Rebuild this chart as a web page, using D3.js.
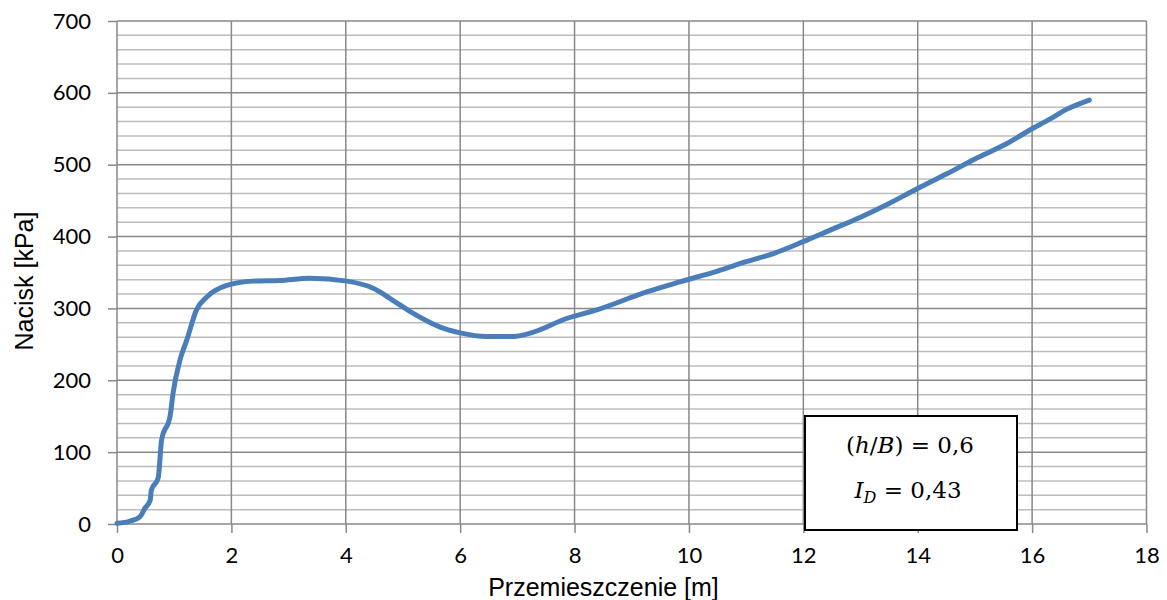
<!DOCTYPE html>
<html><head><meta charset="utf-8">
<script src="https://cdn.jsdelivr.net/npm/d3@7"></script>
<style>body{margin:0;background:#fff}svg{display:block}</style>
</head><body>
<svg id="c" width="1167" height="600"></svg>
<script>
const xValues = [0, 0.23, 0.40, 0.49, 0.58, 0.60, 0.72, 0.78, 0.93, 0.98, 1.10, 1.22, 1.39, 1.57, 1.92, 2.38, 2.85, 3.37, 4.02, 4.48, 4.83, 5.18, 5.65, 6.0, 6.46, 6.93, 7.28, 7.86, 8.39, 9.26, 9.84, 10.5, 11, 11.5, 12, 12.5, 13, 13.5, 14, 14.5, 15, 15.5, 16, 16.3, 16.6, 17.0];
const yValues = [1, 4, 10, 22, 33, 47, 64, 117, 151, 182, 228, 256, 298, 316, 332, 338, 339, 342, 338, 328, 311, 293, 274, 266, 261, 261, 267, 286, 298, 323, 337, 352, 365, 377, 393, 410, 427, 446, 467, 487, 508, 527, 550, 563, 577, 590];
const xTicks = [0, 2, 4, 6, 8, 10, 12, 14, 16, 18];
const yTicks = [0, 100, 200, 300, 400, 500, 600, 700];
const yMinorTicks = d3.range(0, 701, 20);
const xTitle = "Przemieszczenie [m]";
const yTitle = "Nacisk [kPa]";

const svg = d3.select("#c");
const L = 117, R = 1146.5, T = 21, B = 524;
const x = d3.scaleLinear().domain([0, 18]).range([L, R]);
const y = d3.scaleLinear().domain([0, 700]).range([B, T]);

svg.append("g").selectAll("line").data(yMinorTicks.filter(v => v % 100 !== 0)).join("line")
  .attr("x1", L).attr("x2", R).attr("y1", d => y(d)).attr("y2", d => y(d))
  .attr("stroke", "#bcbcbc").attr("stroke-width", 1.5);
svg.append("g").selectAll("line").data(yTicks.filter(v => v > 0)).join("line")
  .attr("x1", L).attr("x2", R).attr("y1", d => y(d)).attr("y2", d => y(d))
  .attr("stroke", "#888").attr("stroke-width", 1.5);
svg.append("g").selectAll("line").data(xTicks.filter(v => v > 0)).join("line")
  .attr("x1", d => x(d)).attr("x2", d => x(d)).attr("y1", T).attr("y2", B)
  .attr("stroke", "#888").attr("stroke-width", 1.5);

const xAxis = d3.axisBottom(x).tickValues(xTicks).tickSize(9).tickPadding(14).tickFormat(d3.format("d"));
const yAxis = d3.axisLeft(y).tickValues(yTicks).tickSize(9).tickPadding(17).tickFormat(d3.format("d"));
const gx = svg.append("g").attr("transform", `translate(0,${B})`).call(xAxis);
const gy = svg.append("g").attr("transform", `translate(${L},0)`).call(yAxis);
[gx, gy].forEach(g => {
  g.select(".domain").attr("stroke", "#888").attr("stroke-width", 1.5);
  g.selectAll(".tick line").attr("stroke", "#888").attr("stroke-width", 1.5);
  g.selectAll(".tick text").attr("fill", "#000").style("font-family", "Lato, 'Open Sans', sans-serif").style("font-size", "22px");
});
gx.select(".domain").attr("d", `M${L},0H${R}`);
gy.select(".domain").attr("d", `M0,${B}V${T}`);

svg.append("text").attr("x", (482 + 725) / 2).attr("y", 596).attr("text-anchor", "middle")
  .style("font-family", "'Liberation Sans', Arial, sans-serif").style("font-size", "25px").text(xTitle);
svg.append("text").attr("transform", `translate(33,281) rotate(-90)`).attr("text-anchor", "middle")
  .style("font-family", "'Liberation Sans', Arial, sans-serif").style("font-size", "25px").text(yTitle);

const pts = xValues.map((v, i) => [v, yValues[i]]);
svg.append("path").datum(pts)
  .attr("d", d3.line().x(d => x(d[0])).y(d => y(d[1])).curve(d3.curveMonotoneX))
  .attr("fill", "none").attr("stroke", "#4a7ebb").attr("stroke-width", 5)
  .attr("stroke-linecap", "round").attr("stroke-linejoin", "round");

const bx = svg.append("g");
bx.append("rect").attr("x", 805).attr("y", 416).attr("width", 212).attr("height", 114)
  .attr("fill", "#fff").attr("stroke", "#000").attr("stroke-width", 2);
const t1 = bx.append("text").attr("x", 910).attr("y", 453).attr("text-anchor", "middle")
  .style("font-family", "'DejaVu Serif', serif").style("font-size", "23px");
t1.append("tspan").text("(");
t1.append("tspan").attr("font-style", "italic").text("h");
t1.append("tspan").text("/");
t1.append("tspan").attr("font-style", "italic").text("B");
t1.append("tspan").text(") = 0,6");
const t2 = bx.append("text").attr("x", 908).attr("y", 498).attr("text-anchor", "middle")
  .style("font-family", "'DejaVu Serif', serif").style("font-size", "23px");
t2.append("tspan").attr("font-style", "italic").text("I");
t2.append("tspan").attr("font-style", "italic").attr("font-size", "16px").attr("dy", 5).text("D");
t2.append("tspan").attr("dy", -5).text(" = 0,43");
</script>
</body></html>
